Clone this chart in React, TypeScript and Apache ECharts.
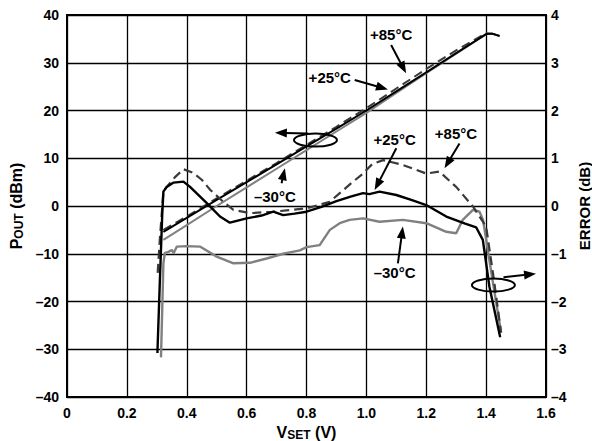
import React, { useEffect, useRef } from "react";
import * as echarts from "echarts";

// ---------- data ----------
const xTickLabels = ["0", "0.2", "0.4", "0.6", "0.8", "1.0", "1.2", "1.4", "1.6"];

// POUT (dBm) vs VSET (V)
const poutX = [0.322, 0.4, 0.5, 0.6, 0.7, 0.8, 0.9, 1.0, 1.1, 1.2, 1.3, 1.4, 1.42, 1.445];
const pout25 = [-5.4, -2.5, 1.3, 5.0, 8.7, 12.5, 16.2, 20.0, 24.0, 28.0, 32.0, 36.0, 36.1, 35.6];
const pout85 = [-5.0, -2.2, 1.6, 5.3, 9.0, 12.8, 16.6, 20.5, 24.6, 28.7, 32.6, 36.2, 36.1, 35.6];
const poutM30 = [-7.1, -4.0, 0.0, 3.9, 7.8, 11.7, 15.6, 19.5, 23.7, 27.8, 31.9, 36.0, 36.1, 35.6];

// ERROR (dB) vs VSET (V)
const err25X = [0.302, 0.31, 0.318, 0.322, 0.333, 0.356, 0.389, 0.411, 0.467, 0.511, 0.544, 0.6, 0.65, 0.689, 0.722, 0.76, 0.8, 0.85, 0.9, 0.95, 0.989, 1.01, 1.044, 1.1, 1.15, 1.2, 1.267, 1.33, 1.367, 1.389, 1.411, 1.447];
const err25 = [-3.08, -1.6, -0.2, 0.3, 0.4, 0.49, 0.51, 0.4, 0.06, -0.22, -0.35, -0.26, -0.2, -0.12, -0.19, -0.16, -0.12, -0.02, 0.1, 0.2, 0.27, 0.25, 0.3, 0.23, 0.13, 0.02, -0.22, -0.37, -0.45, -0.71, -1.69, -2.75];

const err85X = [0.303, 0.31, 0.322, 0.333, 0.36, 0.389, 0.42, 0.45, 0.478, 0.52, 0.556, 0.611, 0.689, 0.75, 0.8, 0.878, 0.911, 0.95, 0.989, 1.02, 1.056, 1.122, 1.2, 1.244, 1.3, 1.356, 1.4, 1.425, 1.45];
const err85 = [-1.4, -0.7, 0.3, 0.4, 0.6, 0.77, 0.7, 0.55, 0.34, 0.1, -0.08, -0.15, -0.12, -0.08, -0.05, 0.09, 0.27, 0.48, 0.68, 0.88, 0.96, 0.86, 0.68, 0.72, 0.4, -0.01, -0.43, -1.5, -2.65];

const errM30X = [0.314, 0.322, 0.327, 0.339, 0.35, 0.356, 0.367, 0.4, 0.444, 0.5, 0.556, 0.611, 0.667, 0.722, 0.778, 0.8, 0.844, 0.878, 0.911, 0.944, 0.989, 1.044, 1.122, 1.2, 1.267, 1.3, 1.322, 1.356, 1.378, 1.39, 1.42, 1.45];
const errM30 = [-3.17, -1.2, -0.98, -0.96, -0.92, -0.99, -0.85, -0.84, -0.85, -1.06, -1.2, -1.19, -1.1, -1.0, -0.93, -0.86, -0.82, -0.5, -0.36, -0.29, -0.26, -0.33, -0.29, -0.36, -0.54, -0.57, -0.29, -0.08, -0.12, -0.3, -1.5, -2.65];

// annotations (data coords on VSET / POUT axes)
const labelTexts = ["+85°C", "+25°C", "–30°C", "+25°C", "+85°C", "–30°C"];
const labelAt: [number, number][] = [
  [1.0825, 36.0],
  [0.8777, 26.9],
  [0.6943, 1.9],
  [1.0943, 14.0],
  [1.2993, 15.1],
  [1.0943, -13.9],
];
const arrowFrom: [number, number][] = [
  [1.0827, 33.7],
  [0.961, 26.4],
  [0.7167, 4.75],
  [1.1, 12.1],
  [1.311, 13.1],
  [1.1053, -12.0],
  [0.805, 15.2],
  [1.458, -14.9],
];
const arrowTo: [number, number][] = [
  [1.1327, 27.8],
  [1.072, 24.4],
  [0.7277, 7.9],
  [1.0277, 3.35],
  [1.261, 7.9],
  [1.122, -4.3],
  [0.6943, 15.35],
  [1.5667, -14.2],
];
const loopAt: [number, number][] = [
  [0.83, 13.8],
  [1.4243, -16.55],
];

const pairs = (xs: number[], ys: number[]) => xs.map((x, i) => [x, ys[i]]);
const dash = (v: number) => (v < 0 ? "–" + Math.abs(v) : String(v));

export default function App() {
  const ref = useRef<HTMLDivElement>(null);

  useEffect(() => {
    if (!ref.current) return;
    const chart = echarts.init(ref.current, null, { renderer: "svg" });
    const font = "Liberation Sans";
    const tickStyle = { fontFamily: font, fontWeight: "bold" as const, fontSize: 14, color: "#000" };
    const titleRich = {
      v: { fontFamily: font, fontWeight: "bold", fontSize: 16, color: "#000", lineHeight: 16 },
      s: { fontFamily: font, fontWeight: "bold", fontSize: 12, color: "#000", lineHeight: 5, verticalAlign: "bottom" },
    };

    chart.setOption({
      animation: false,
      backgroundColor: "#fff",
      grid: {
        left: 67,
        right: 46,
        top: 15,
        bottom: 44,
        show: true,
        borderColor: "#000",
        borderWidth: 2,
        containLabel: false,
        outerBoundsMode: "none",
      },
      xAxis: {
        type: "value",
        min: 0,
        max: 1.6,
        interval: 0.2,
        axisLine: { show: true, onZero: false, lineStyle: { color: "#000", width: 2 } },
        axisTick: { show: false },
        splitLine: { show: true, lineStyle: { color: "#000", width: 1.3 } },
        axisLabel: {
          ...tickStyle,
          margin: 9,
          formatter: (v: number) => xTickLabels[Math.round(v / 0.2)] ?? "",
        },
        name: "{v|V}{s|SET}{v| (V)}",
        nameLocation: "middle",
        nameGap: 21,
        nameTextStyle: { rich: titleRich },
      },
      yAxis: [
        {
          type: "value",
          min: -40,
          max: 40,
          interval: 10,
          axisLine: { show: true, onZero: false, lineStyle: { color: "#000", width: 2 } },
          axisTick: { show: false },
          splitLine: { show: true, lineStyle: { color: "#000", width: 1.3 } },
          axisLabel: { ...tickStyle, margin: 8, formatter: dash },
          name: "{v|P}{s|OUT}{v| (dBm)}",
          nameLocation: "middle",
          nameRotate: 90,
          nameGap: 41,
          nameTextStyle: { rich: titleRich },
        },
        {
          type: "value",
          min: -4,
          max: 4,
          interval: 1,
          position: "right",
          axisLine: { show: true, onZero: false, lineStyle: { color: "#000", width: 2 } },
          axisTick: { show: false },
          splitLine: { show: false },
          axisLabel: { ...tickStyle, margin: 5, formatter: dash },
          name: "ERROR (dB)",
          nameLocation: "middle",
          nameRotate: 90,
          nameGap: 26,
          nameTextStyle: { fontFamily: font, fontWeight: "bold", fontSize: 15, color: "#000" },
        },
      ],
      series: [
        { name: "pout -30", type: "line", yAxisIndex: 0, data: pairs(poutX, poutM30), showSymbol: false, lineStyle: { color: "#808080", width: 2 } },
        { name: "pout +85", type: "line", yAxisIndex: 0, data: pairs(poutX, pout85), showSymbol: false, lineStyle: { color: "#3a3a3a", width: 2, type: [9, 5] } },
        { name: "pout +25", type: "line", yAxisIndex: 0, data: pairs(poutX, pout25), showSymbol: false, lineStyle: { color: "#000", width: 2 } },
        { name: "err -30", type: "line", yAxisIndex: 1, data: pairs(errM30X, errM30), showSymbol: false, lineStyle: { color: "#808080", width: 2.4 } },
        { name: "err +85", type: "line", yAxisIndex: 1, data: pairs(err85X, err85), showSymbol: false, lineStyle: { color: "#3a3a3a", width: 2.2, type: [9, 5] } },
        { name: "err +25", type: "line", yAxisIndex: 1, data: pairs(err25X, err25), showSymbol: false, lineStyle: { color: "#000", width: 2.4 } },
      ],
    });

    const toPx = (p: [number, number]) =>
      chart.convertToPixel({ xAxisIndex: 0, yAxisIndex: 0 }, p) as number[];

    const elements: any[] = [];
    labelTexts.forEach((t, i) => {
      const [x, y] = toPx(labelAt[i]);
      elements.push({
        type: "text",
        x,
        y,
        style: {
          text: t,
          fontFamily: font,
          fontWeight: "bold",
          fontSize: 15,
          fill: "#000",
          align: "center",
          verticalAlign: "middle",
        },
        z: 100,
      });
    });
    arrowFrom.forEach((f, i) => {
      const [x1, y1] = toPx(f);
      const [x2, y2] = toPx(arrowTo[i]);
      const dx = x2 - x1;
      const dy = y2 - y1;
      const len = Math.hypot(dx, dy);
      const ux = dx / len;
      const uy = dy / len;
      const hl = 12;
      const hw = 4.5;
      const bx = x2 - ux * hl;
      const by = y2 - uy * hl;
      elements.push({
        type: "line",
        shape: { x1, y1, x2: bx + ux * 2, y2: by + uy * 2 },
        style: { stroke: "#000", lineWidth: 2 },
        z: 100,
      });
      elements.push({
        type: "polygon",
        shape: {
          points: [
            [x2, y2],
            [bx - uy * hw, by + ux * hw],
            [bx + uy * hw, by - ux * hw],
          ],
        },
        style: { fill: "#000" },
        z: 100,
      });
    });
    loopAt.forEach((c) => {
      const [cx, cy] = toPx(c);
      elements.push({
        type: "ellipse",
        shape: { cx, cy, rx: 21.5, ry: 6.5 },
        style: { fill: "none", stroke: "#000", lineWidth: 2 },
        z: 100,
      });
    });
    chart.setOption({ graphic: elements });

    return () => chart.dispose();
  }, []);

  return (
    <div
      ref={ref}
      style={{ position: "absolute", left: 0, top: 0, width: 592, height: 441, background: "#fff" }}
    />
  );
}
